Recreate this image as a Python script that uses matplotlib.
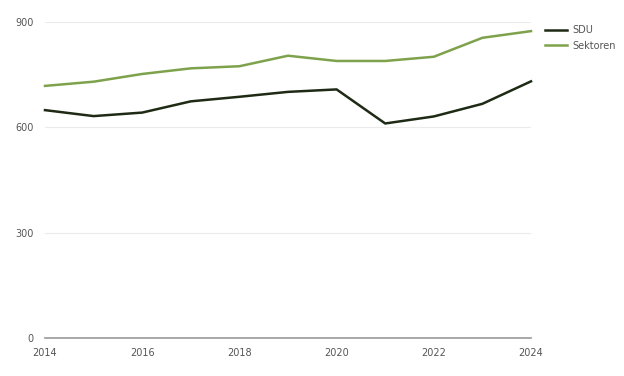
import matplotlib.pyplot as plt

years = [2014, 2015, 2016, 2017, 2018, 2019, 2020, 2021, 2022, 2023, 2024]
sdu = [649, 632, 642, 674, 687, 701, 708, 611, 631, 667, 731]
sektoren = [718, 730, 752, 768, 774, 804, 789, 789, 801, 855, 874]

yticks = [0, 300, 600, 900]
xticks = [2014, 2016, 2018, 2020, 2022, 2024]

fig = plt.figure(figsize=(6.24, 3.76), dpi=100)
ax = fig.add_axes([45 / 624, 1 - 338 / 376, 486 / 624, 316 / 376])

ax.plot(years, sdu, color='#1f2a15', lw=1.8, label='SDU', clip_on=False)
ax.plot(years, sektoren, color='#7ea24c', lw=1.8, label='Sektoren', clip_on=False)

ax.set_xlim(2014, 2024)
ax.set_ylim(0, 900)
ax.set_yticks(yticks)
ax.set_xticks(xticks)
ax.grid(axis='y', color='#ebebeb', lw=0.8)
ax.set_axisbelow(True)
for s in ['top', 'right', 'left']:
    ax.spines[s].set_visible(False)
ax.spines['bottom'].set_color('#999999')
ax.spines['bottom'].set_linewidth(1.2)
ax.tick_params(length=0, labelsize=7, colors='#555555')
ax.tick_params(axis='y', pad=8)
ax.tick_params(axis='x', pad=7)

ax.legend(loc='upper left', bbox_to_anchor=(1.029, 0.99), frameon=False,
          fontsize=7, labelcolor='#555555', handlelength=2.3,
          handletextpad=0.5, labelspacing=0.55, borderpad=0, borderaxespad=0)

fig.savefig('out.png', dpi=100)
